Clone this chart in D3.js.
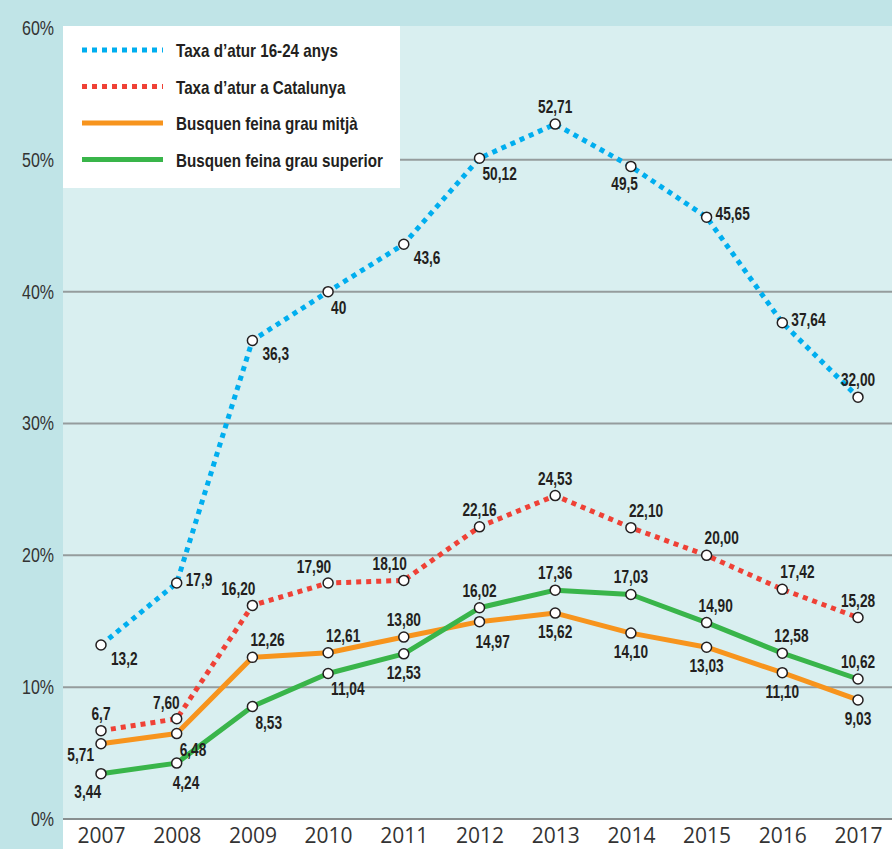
<!DOCTYPE html>
<html>
<head>
<meta charset="utf-8">
<script src="https://cdn.jsdelivr.net/npm/d3@7"></script>
<style>
  body { margin: 0; background: #c0e4e7; }
  svg { display: block; }
</style>
</head>
<body>
<div id="chart"></div>
<script>
// data
let years = [2007, 2008, 2009, 2010, 2011, 2012, 2013, 2014, 2015, 2016, 2017];
let yTicks = [0, 10, 20, 30, 40, 50, 60];

let youthRate = [13.2, 17.9, 36.3, 40, 43.6, 50.12, 52.71, 49.5, 45.65, 37.64, 32.00];
let youthText = ["13,2", "17,9", "36,3", "40", "43,6", "50,12", "52,71", "49,5", "45,65", "37,64", "32,00"];
let youthPos  = ["se2", "e", "se2", "se", "se2", "se", "n", "sw", "e", "e", "n"];

let cataRate = [6.7, 7.60, 16.20, 17.90, 18.10, 22.16, 24.53, 22.10, 20.00, 17.42, 15.28];
let cataText = ["6,7", "7,60", "16,20", "17,90", "18,10", "22,16", "24,53", "22,10", "20,00", "17,42", "15,28"];
let cataPos  = ["n", "nw", "nw", "nw", "nw", "n", "n", "ne", "ne", "ne", "n"];

let midRate = [5.71, 6.48, 12.26, 12.61, 13.80, 14.97, 15.62, 14.10, 13.03, 11.10, 9.03];
let midText = ["5,71", "6,48", "12,26", "12,61", "13,80", "14,97", "15,62", "14,10", "13,03", "11,10", "9,03"];
let midPos  = ["w", "se", "ne", "ne", "n", "sse", "s", "s", "s", "s", "s"];

let highRate = [3.44, 4.24, 8.53, 11.04, 12.53, 16.02, 17.36, 17.03, 14.90, 12.58, 10.62];
let highText = ["3,44", "4,24", "8,53", "11,04", "12,53", "16,02", "17,36", "17,03", "14,90", "12,58", "10,62"];
let highPos  = ["sw2", "sse", "se", "se", "s", "n", "n", "n", "nne", "nne", "n"];

let seriesNames = ["Taxa d\u2019atur 16-24 anys", "Taxa d\u2019atur a Catalunya",
                   "Busquen feina grau mitj\u00e0", "Busquen feina grau superior"];

let series = [
    {name: seriesNames[0], values: youthRate, text: youthText, pos: youthPos, color: "#00aeef", dotted: true},
    {name: seriesNames[1], values: cataRate, text: cataText, pos: cataPos, color: "#ef4136", dotted: true},
    {name: seriesNames[2], values: midRate, text: midText, pos: midPos, color: "#f7941d", dotted: false},
    {name: seriesNames[3], values: highRate, text: highText, pos: highPos, color: "#39b54a", dotted: false}
];

const W = 892, H = 849;
const panel = {left: 63, top: 26};

// squeeze text horizontally to mimic the condensed face of the original
function condense(sel, k) {
    sel.each(function() {
        let w = this.getComputedTextLength();
        this.setAttribute("textLength", w * k);
        this.setAttribute("lengthAdjust", "spacingAndGlyphs");
    });
}

const svg = d3.select("#chart").append("svg")
    .attr("width", W)
    .attr("height", H);

// backgrounds
svg.append("rect").attr("width", W).attr("height", H).attr("fill", "#c0e4e7");
svg.append("rect")
    .attr("x", panel.left).attr("y", panel.top)
    .attr("width", W - panel.left).attr("height", 820 - panel.top)
    .attr("fill", "#d9eff0");
svg.append("rect")
    .attr("x", panel.left).attr("y", 820)
    .attr("width", W - panel.left).attr("height", H - 820)
    .attr("fill", "#ffffff");

let x = d3.scalePoint()
    .domain(years)
    .range([101, 858]);

let y = d3.scaleLinear()
    .domain([0, 60])
    .range([819, 28]);

// grid
svg.append("g")
    .selectAll("line")
    .data(yTicks.filter(d => d < 60))
    .enter()
    .append("line")
        .attr("x1", panel.left)
        .attr("x2", W)
        .attr("y1", d => y(d))
        .attr("y2", d => y(d))
        .attr("stroke", d => d == 0 ? "#888f90" : "#959c9d")
        .attr("stroke-width", 2);

// y axis labels
let yAxis = svg.append("g")
    .attr("transform", "translate(" + panel.left + ",0)")
    .call(d3.axisLeft(y).tickValues(yTicks).tickSize(0).tickPadding(9).tickFormat(d => d + "%"));
yAxis.select(".domain").remove();
yAxis.selectAll("text")
    .attr("font-family", "'Liberation Sans', 'Open Sans', sans-serif")
    .attr("font-size", 20)
    .attr("fill", "#333333")
    .call(condense, 0.8);

// x axis labels
let xAxis = svg.append("g")
    .attr("transform", "translate(0,819)")
    .call(d3.axisBottom(x).tickSize(0).tickPadding(9));
xAxis.select(".domain").remove();
xAxis.selectAll("text")
    .attr("font-family", "'Open Sans', sans-serif")
    .attr("font-size", 21)
    .attr("fill", "#333333");

let line = d3.line()
    .x((d, i) => x(years[i]))
    .y(d => y(d));

svg.append("g")
    .selectAll("path")
    .data(series)
    .enter()
    .append("path")
        .attr("d", d => line(d.values))
        .attr("fill", "none")
        .attr("stroke", d => d.color)
        .attr("stroke-width", 5)
        .attr("stroke-dasharray", d => d.dotted ? "5,5" : null)
        .attr("stroke-linejoin", "round");

// markers
series.forEach(s => {
    svg.append("g")
        .selectAll("circle")
        .data(s.values)
        .enter()
        .append("circle")
            .attr("cx", (d, i) => x(years[i]))
            .attr("cy", d => y(d))
            .attr("r", 5)
            .attr("fill", "#ffffff")
            .attr("stroke", "#231f20")
            .attr("stroke-width", 1.5);
});

// value labels, placed around each point
const place = {
    n:   {anchor: "middle", dx: 0,  dy: -11},
    ne:  {anchor: "start",  dx: -2, dy: -11},
    nne: {anchor: "start",  dx: -8, dy: -11},
    nw:  {anchor: "end",    dx: 3,  dy: -10},
    s:   {anchor: "middle", dx: 0,  dy: 25},
    se:  {anchor: "start",  dx: 3,  dy: 22},
    se2: {anchor: "start",  dx: 10, dy: 20},
    sse: {anchor: "start",  dx: -4, dy: 26},
    sw:  {anchor: "end",    dx: 7,  dy: 24},
    sw2: {anchor: "end",    dx: 0,  dy: 24},
    e:   {anchor: "start",  dx: 9,  dy: 3},
    w:   {anchor: "end",    dx: -7, dy: 17}
};

series.forEach(s => {
    svg.append("g")
        .selectAll("text")
        .data(s.values)
        .enter()
        .append("text")
            .attr("x", (d, i) => x(years[i]) + place[s.pos[i]].dx)
            .attr("y", (d, i) => y(d) + place[s.pos[i]].dy)
            .attr("text-anchor", (d, i) => place[s.pos[i]].anchor)
            .attr("font-family", "'Liberation Sans', sans-serif")
            .attr("font-weight", "bold")
            .attr("font-size", 19)
            .attr("fill", "#231f20")
            .text((d, i) => s.text[i])
            .call(condense, 0.72);
});

// legend
let legendBox = svg.append("g");
legendBox.append("rect")
    .attr("x", panel.left).attr("y", panel.top)
    .attr("width", 337).attr("height", 162)
    .attr("fill", "#ffffff");

let legend = legendBox.selectAll("g")
    .data(series)
    .enter()
    .append("g")
        .attr("transform", (d, i) => "translate(82," + (50 + i * 36.5) + ")");

legend.append("line")
    .attr("x1", 0).attr("x2", 81)
    .attr("stroke", d => d.color)
    .attr("stroke-width", 5)
    .attr("stroke-dasharray", d => d.dotted ? "5,5" : null);

legend.append("text")
    .attr("x", 94)
    .attr("y", 7)
    .attr("font-family", "'Liberation Sans', sans-serif")
    .attr("font-weight", "bold")
    .attr("font-size", 19)
    .attr("fill", "#231f20")
    .text(d => d.name)
    .call(condense, 0.8);
</script>
</body>
</html>
